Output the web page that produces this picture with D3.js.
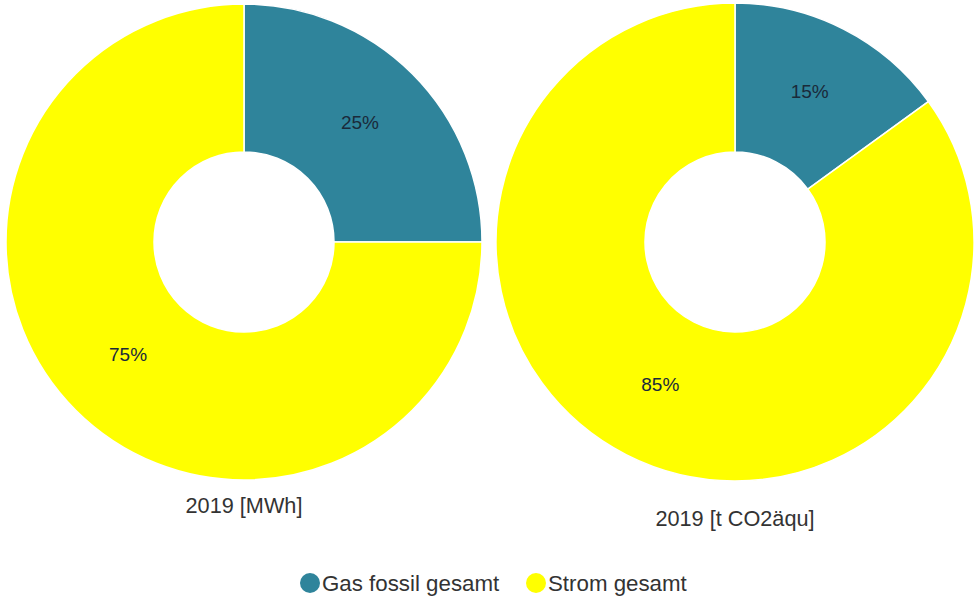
<!DOCTYPE html>
<html>
<head>
<meta charset="utf-8">
<script src="https://cdn.jsdelivr.net/npm/d3@7/dist/d3.min.js"></script>
<style>
  html, body { margin: 0; padding: 0; background: #fff; }
  svg { display: block; font-family: "Liberation Sans", Arial, sans-serif; }
</style>
</head>
<body>
<svg id="chart" width="976" height="601"></svg>
<script>
// Energy source shares, two views of the same year
const categories = ["Gas fossil gesamt", "Strom gesamt"];
const energyMWh = [25, 75];
const emissionsCO2 = [15, 85];
const chartTitles = ["2019 [MWh]", "2019 [t CO2äqu]"];
const colors = ["#2f849b", "#ffff00"];

const svg = d3.select("#chart");
const color = d3.scaleOrdinal().domain(categories).range(colors);

const pie = d3.pie().sort(null).value(d => d.value);
const innerR = 90;

const donuts = [
  { values: energyMWh, title: chartTitles[0], cx: 244, cy: 242, r: 238, titleY: 505 },
  { values: emissionsCO2, title: chartTitles[1], cx: 735, cy: 242, r: 239, titleY: 518 }
];

donuts.forEach(dn => {
  const arc = d3.arc().innerRadius(innerR).outerRadius(dn.r);
  const data = categories.map((c, i) => ({ name: c, value: dn.values[i] }));
  const total = d3.sum(data, d => d.value);
  const g = svg.append("g").attr("transform", `translate(${dn.cx},${dn.cy})`);
  const arcs = pie(data);

  g.selectAll("path").data(arcs).join("path")
    .attr("d", arc)
    .attr("fill", d => color(d.data.name))
    .attr("stroke", "#fff")
    .attr("stroke-width", 1.5);

  g.selectAll("text.pct").data(arcs).join("text")
    .attr("class", "pct")
    .attr("transform", d => `translate(${arc.centroid(d)})`)
    .attr("text-anchor", "middle")
    .attr("dy", "0.15em")
    .attr("font-size", 19)
    .attr("fill", "#1a2a3a")
    .text(d => Math.round(d.data.value / total * 100) + "%");

  svg.append("text")
    .attr("x", dn.cx)
    .attr("y", dn.titleY)
    .attr("dy", "0.35em")
    .attr("text-anchor", "middle")
    .attr("font-size", 21.7)
    .attr("fill", "#333")
    .text(dn.title);
});

// Legend
const legendX = [310, 536];
const legend = svg.append("g").attr("transform", "translate(0,583)");
categories.forEach((c, i) => {
  const item = legend.append("g").attr("transform", `translate(${legendX[i]},0)`);
  item.append("circle").attr("r", 10).attr("fill", color(c));
  item.append("text")
    .attr("x", 12)
    .attr("dy", "0.35em")
    .attr("font-size", 22.3)
    .attr("fill", "#333")
    .text(c);
});
</script>
</body>
</html>
